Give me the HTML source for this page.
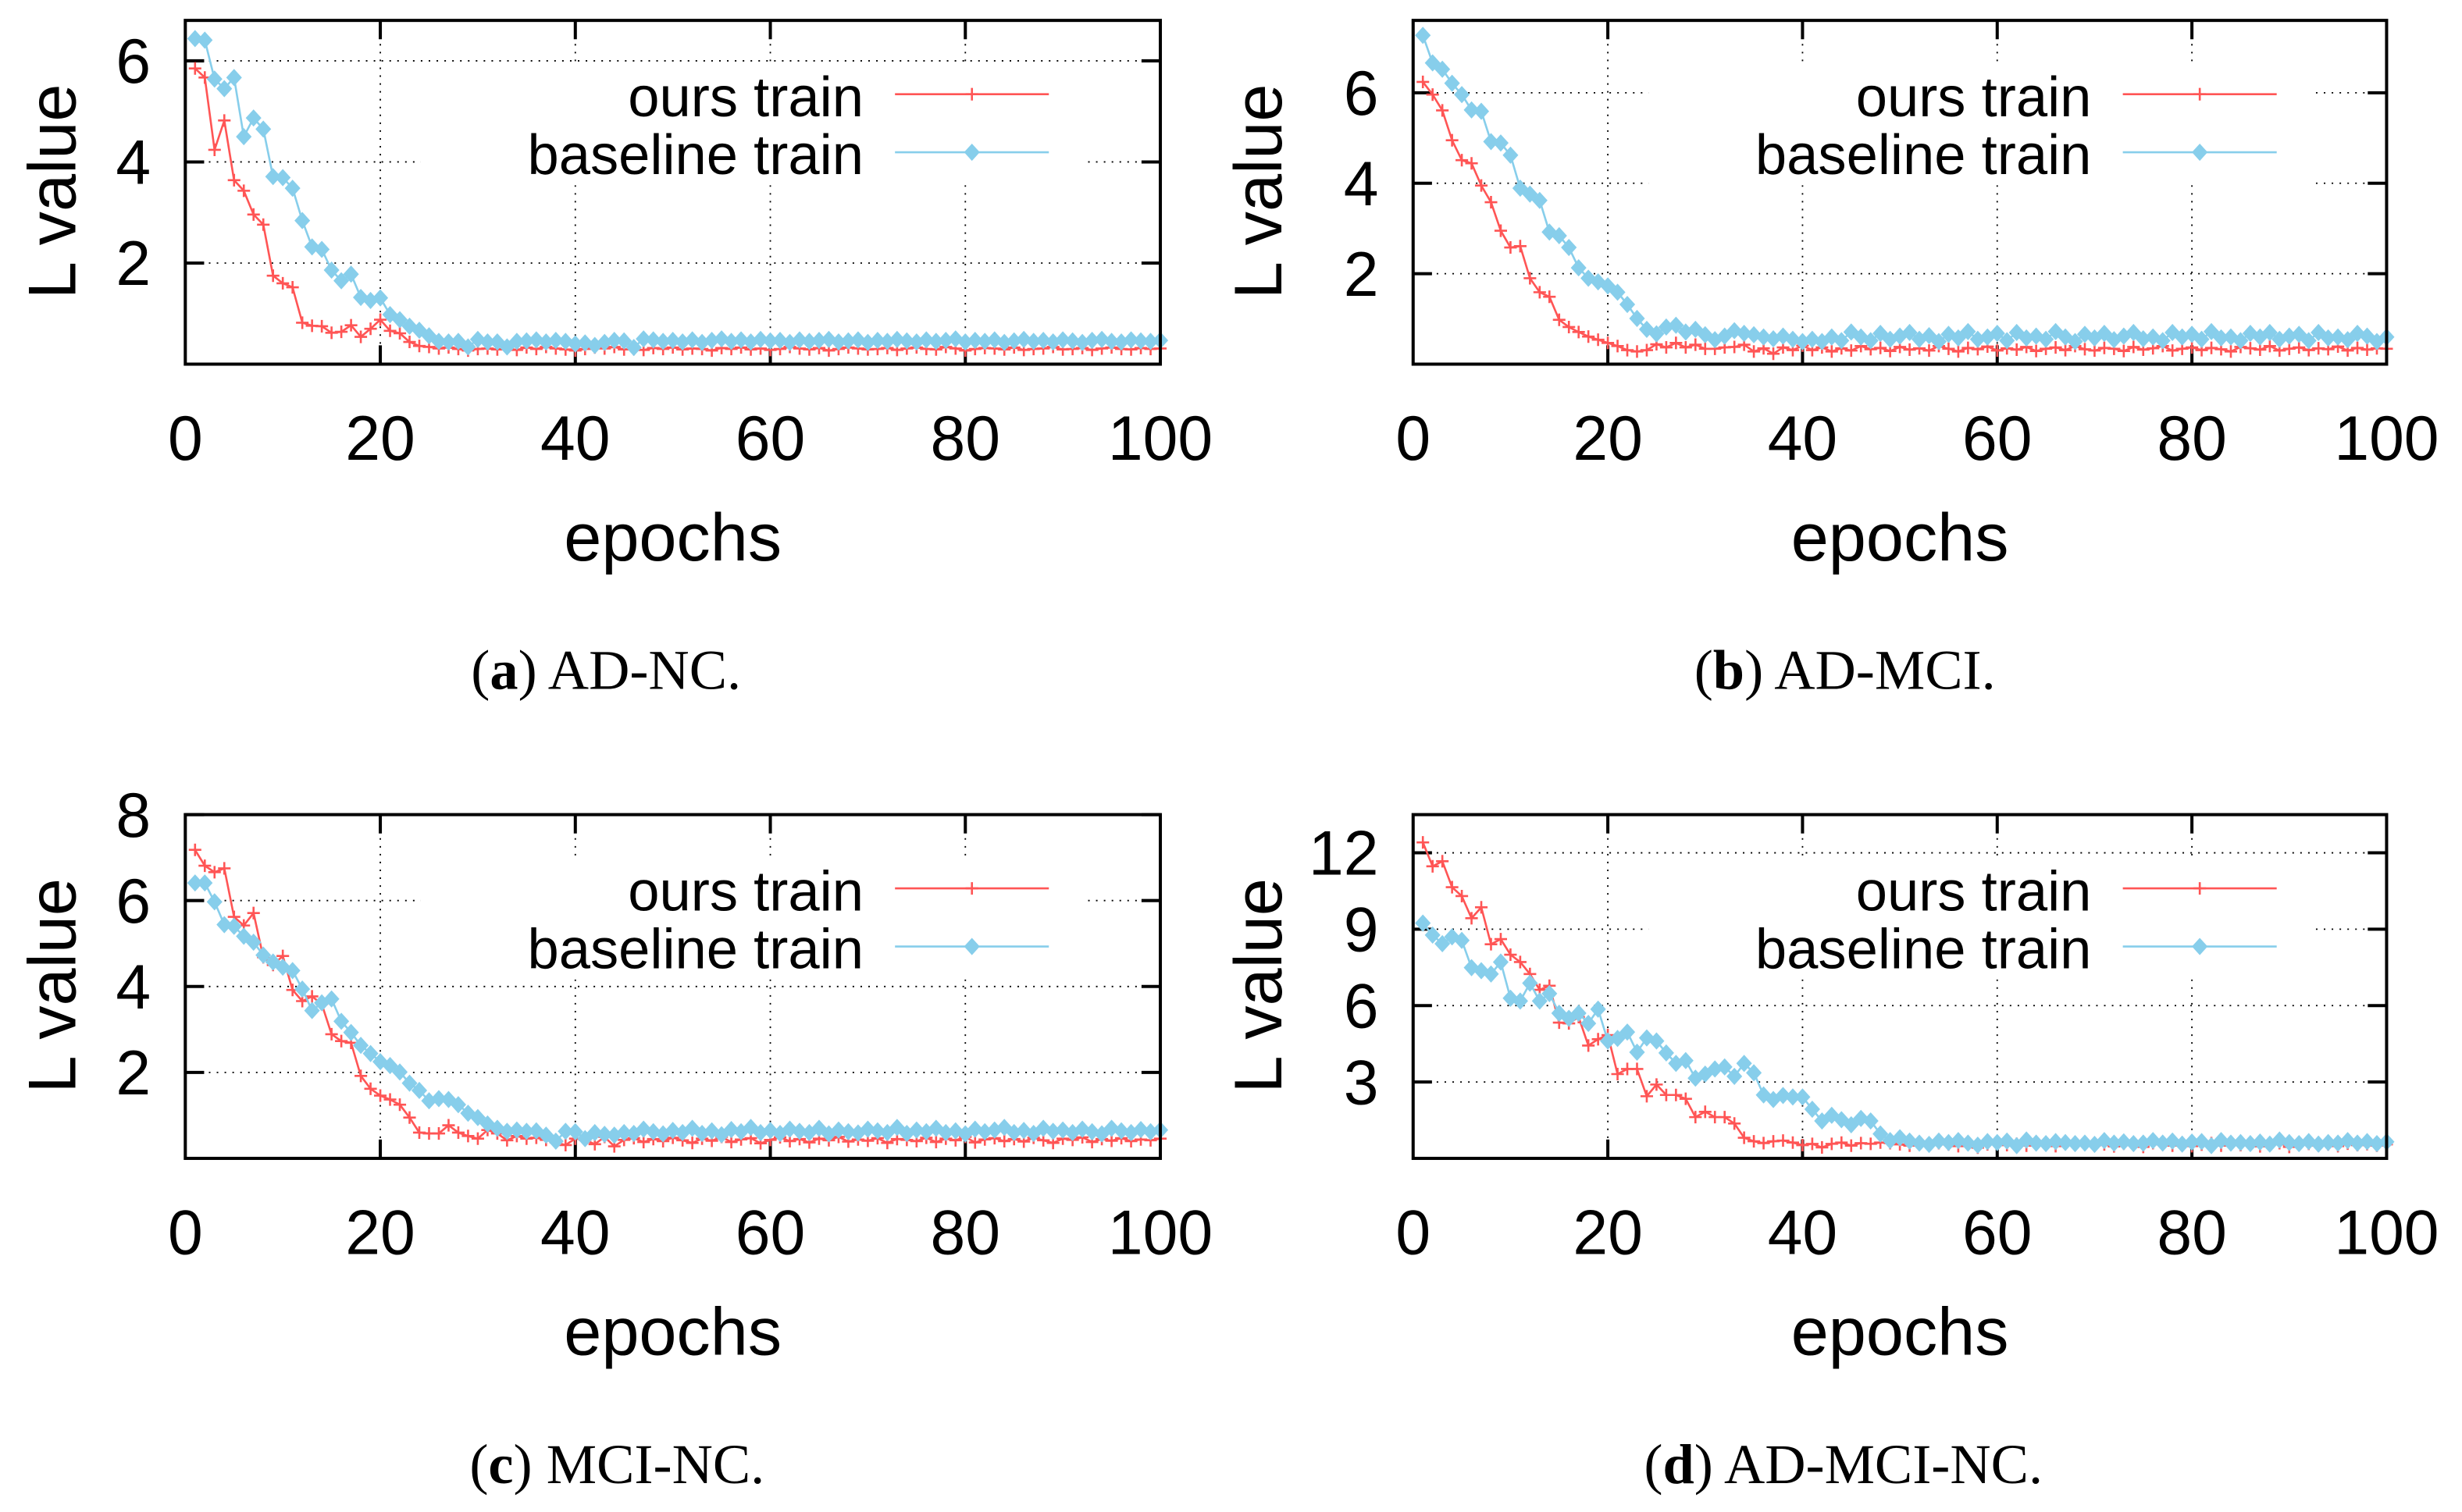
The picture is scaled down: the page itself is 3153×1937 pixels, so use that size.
<!DOCTYPE html>
<html><head><meta charset="utf-8">
<style>
html,body{margin:0;padding:0;background:#fff;}
svg{display:block;}
text{font-family:"Liberation Sans",Arial,sans-serif;fill:#000;}
.cap{font-family:"Liberation Serif","Times New Roman",serif;}
</style></head>
<body>
<svg id="fig" width="3153" height="1937" viewBox="0 0 1568 963.3" xmlns="http://www.w3.org/2000/svg"></svg>
<script>
const epochs = Array.from({length:100},(_,i)=>i+1);
const xTicks = [0,20,40,60,80,100];
const titleLetters = ["a","b","c","d"];
const titles = ["AD-NC.","AD-MCI.","MCI-NC.","AD-MCI-NC."];
const yTicksA = [2,4,6], yTicksB = [2,4,6], yTicksC = [2,4,6,8], yTicksD = [3,6,9,12];
const yMax = [6.8, 7.6, 8, 13.5];
const oursA = [5.85,5.67,4.24,4.82,3.64,3.43,2.96,2.76,1.75,1.6,1.52,0.82,0.76,0.75,0.62,0.64,0.77,0.54,0.7,0.88,0.66,0.61,0.44,0.36,0.34,0.31,0.33,0.3,0.27,0.3,0.31,0.29,0.32,0.28,0.33,0.3,0.34,0.31,0.29,0.27,0.3,0.33,0.31,0.34,0.29,0.3,0.28,0.32,0.3,0.33,0.29,0.31,0.3,0.27,0.32,0.3,0.33,0.29,0.31,0.28,0.3,0.34,0.31,0.29,0.32,0.27,0.3,0.33,0.31,0.29,0.3,0.32,0.28,0.31,0.33,0.3,0.29,0.34,0.31,0.27,0.3,0.32,0.31,0.29,0.33,0.28,0.3,0.31,0.34,0.29,0.3,0.32,0.28,0.31,0.33,0.3,0.29,0.32,0.3,0.31];
const baseA = [6.44,6.41,5.64,5.45,5.67,4.5,4.87,4.65,3.71,3.69,3.48,2.84,2.32,2.27,1.86,1.65,1.78,1.32,1.26,1.31,0.98,0.88,0.75,0.67,0.56,0.45,0.44,0.45,0.34,0.49,0.44,0.44,0.34,0.45,0.46,0.48,0.44,0.47,0.45,0.4,0.42,0.37,0.43,0.47,0.46,0.33,0.5,0.48,0.45,0.47,0.44,0.48,0.43,0.47,0.5,0.45,0.48,0.44,0.49,0.46,0.47,0.43,0.48,0.45,0.47,0.49,0.44,0.46,0.48,0.43,0.47,0.45,0.49,0.46,0.44,0.48,0.45,0.47,0.5,0.44,0.47,0.45,0.48,0.43,0.46,0.49,0.45,0.47,0.44,0.48,0.46,0.43,0.47,0.49,0.45,0.44,0.48,0.46,0.45,0.47];
const oursB = [6.24,5.96,5.61,4.95,4.51,4.44,3.95,3.58,2.95,2.58,2.61,1.9,1.59,1.49,0.98,0.82,0.71,0.61,0.54,0.47,0.4,0.31,0.28,0.31,0.44,0.37,0.47,0.37,0.43,0.34,0.34,0.37,0.38,0.43,0.28,0.35,0.23,0.37,0.31,0.41,0.31,0.37,0.28,0.35,0.3,0.4,0.33,0.36,0.29,0.38,0.32,0.35,0.3,0.4,0.34,0.28,0.36,0.33,0.39,0.3,0.35,0.32,0.38,0.29,0.34,0.37,0.31,0.4,0.33,0.3,0.36,0.34,0.29,0.38,0.32,0.35,0.4,0.3,0.34,0.37,0.31,0.36,0.33,0.28,0.38,0.35,0.32,0.4,0.3,0.34,0.37,0.31,0.35,0.33,0.39,0.3,0.36,0.32,0.35,0.34];
const baseB = [7.27,6.66,6.52,6.21,5.96,5.62,5.59,4.92,4.89,4.62,3.89,3.76,3.62,2.92,2.84,2.58,2.13,1.9,1.82,1.73,1.59,1.32,1.01,0.77,0.67,0.82,0.86,0.71,0.77,0.65,0.54,0.62,0.74,0.68,0.65,0.6,0.56,0.62,0.55,0.5,0.55,0.5,0.6,0.52,0.71,0.6,0.52,0.68,0.55,0.62,0.7,0.55,0.63,0.5,0.66,0.58,0.72,0.55,0.6,0.68,0.52,0.7,0.58,0.62,0.55,0.72,0.6,0.5,0.66,0.58,0.68,0.54,0.62,0.7,0.56,0.6,0.52,0.7,0.6,0.66,0.55,0.72,0.58,0.6,0.52,0.68,0.6,0.7,0.55,0.62,0.66,0.52,0.7,0.58,0.6,0.54,0.68,0.62,0.5,0.6];
const oursC = [7.18,6.81,6.66,6.75,5.62,5.42,5.71,4.68,4.5,4.71,3.92,3.66,3.77,3.59,2.89,2.73,2.69,1.92,1.62,1.46,1.37,1.25,0.95,0.6,0.58,0.58,0.77,0.6,0.52,0.46,0.66,0.58,0.42,0.52,0.46,0.48,0.43,0.37,0.31,0.46,0.43,0.33,0.5,0.28,0.43,0.47,0.38,0.45,0.4,0.48,0.42,0.36,0.46,0.41,0.5,0.38,0.44,0.47,0.35,0.43,0.49,0.4,0.45,0.37,0.46,0.42,0.5,0.39,0.44,0.41,0.47,0.36,0.45,0.43,0.4,0.48,0.38,0.46,0.42,0.5,0.37,0.44,0.47,0.4,0.45,0.39,0.48,0.42,0.36,0.46,0.43,0.49,0.38,0.45,0.41,0.47,0.4,0.44,0.42,0.46];
const baseC = [6.41,6.41,5.97,5.44,5.4,5.17,5.03,4.73,4.57,4.45,4.37,3.94,3.44,3.62,3.71,3.19,2.93,2.63,2.44,2.25,2.16,2.01,1.75,1.58,1.34,1.39,1.37,1.25,1.05,0.95,0.8,0.7,0.63,0.66,0.63,0.64,0.54,0.4,0.63,0.62,0.46,0.6,0.56,0.54,0.6,0.58,0.68,0.62,0.57,0.65,0.6,0.7,0.58,0.64,0.55,0.67,0.62,0.72,0.6,0.65,0.58,0.68,0.63,0.6,0.7,0.57,0.66,0.62,0.59,0.68,0.64,0.6,0.72,0.58,0.66,0.62,0.7,0.6,0.64,0.57,0.68,0.62,0.66,0.72,0.6,0.65,0.58,0.7,0.63,0.66,0.6,0.68,0.62,0.57,0.7,0.64,0.6,0.67,0.62,0.66];
const oursD = [12.41,11.47,11.67,10.65,10.3,9.43,9.86,8.41,8.61,8.0,7.71,7.24,6.62,6.78,5.33,5.3,5.55,4.43,4.68,4.84,3.31,3.51,3.51,2.44,2.9,2.49,2.49,2.34,1.62,1.83,1.62,1.62,1.37,0.81,0.67,0.6,0.67,0.7,0.62,0.52,0.57,0.43,0.57,0.62,0.5,0.6,0.57,0.62,0.6,0.55,0.5,0.58,0.52,0.6,0.55,0.48,0.56,0.42,0.55,0.6,0.52,0.57,0.5,0.6,0.54,0.48,0.58,0.53,0.6,0.5,0.55,0.47,0.58,0.52,0.45,0.6,0.55,0.5,0.57,0.48,0.54,0.6,0.5,0.56,0.52,0.58,0.47,0.55,0.6,0.45,0.53,0.57,0.5,0.55,0.48,0.58,0.52,0.56,0.5,0.55];
const baseD = [9.24,8.77,8.43,8.7,8.56,7.49,7.37,7.24,7.71,6.29,6.18,6.88,6.18,6.47,5.7,5.5,5.7,5.3,5.86,4.61,4.71,4.96,4.17,4.73,4.61,4.14,3.73,3.84,3.15,3.31,3.51,3.59,3.22,3.73,3.36,2.49,2.31,2.47,2.41,2.41,1.93,1.47,1.69,1.52,1.32,1.57,1.47,0.96,0.7,0.81,0.68,0.6,0.55,0.68,0.62,0.7,0.6,0.52,0.66,0.62,0.68,0.5,0.72,0.6,0.58,0.66,0.62,0.58,0.6,0.55,0.7,0.6,0.65,0.58,0.6,0.7,0.6,0.68,0.56,0.64,0.66,0.5,0.7,0.6,0.62,0.58,0.64,0.56,0.72,0.62,0.58,0.66,0.56,0.62,0.6,0.7,0.6,0.66,0.58,0.65];

const NS="http://www.w3.org/2000/svg";
const svg=document.getElementById('fig');
function mk(tag,attrs,parent){const e=document.createElementNS(NS,tag);for(const k in attrs)e.setAttribute(k,attrs[k]);(parent||svg).appendChild(e);return e;}
const RED="#ff5555", BLUE="#87ceeb";
const panels=[
 {ox:0,oy:0,L:118,R:739,ourKey:oursA,baseKey:baseA,yt:yTicksA,ym:yMax[0],capX:386},
 {ox:782,oy:0,L:900,R:1520,ourKey:oursB,baseKey:baseB,yt:yTicksB,ym:yMax[1],capX:1175},
 {ox:0,oy:506,L:118,R:739,ourKey:oursC,baseKey:baseC,yt:yTicksC,ym:yMax[2],capX:393},
 {ox:782,oy:506,L:900,R:1520,ourKey:oursD,baseKey:baseD,yt:yTicksD,ym:yMax[3],capX:1174}
];
panels.forEach((p,pi)=>{
  const g=mk('g',{});
  
  
  const T=13+p.oy, B=232+p.oy, L=p.L, R=p.R;
  const sx=v=>L+(v-0)/(100-0)*(R-L);
  const sy=v=>B-(v/p.ym)*(B-T);
  p.yt.forEach(t=>{const l=mk('line',{x1:L,x2:R,y1:sy(t),y2:sy(t),stroke:'#000','stroke-width':0.9,'stroke-dasharray':'1 4'},g);
    });
  xTicks.slice(1,-1).forEach(t=>{const l=mk('line',{x1:sx(t),x2:sx(t),y1:T,y2:B,stroke:'#000','stroke-width':0.9,'stroke-dasharray':'1 4'},g);
    });
  const lb=mk('rect',{x:L+150,y:T+27,width:422,height:78,fill:'#fff'},g);
  
  p.yt.forEach(t=>{
    const a=mk('line',{x1:L,x2:L+12,y1:sy(t),y2:sy(t),stroke:'#000','stroke-width':2},g);
    
    const b=mk('line',{x1:R-12,x2:R,y1:sy(t),y2:sy(t),stroke:'#000','stroke-width':2},g);
    
    const tx=mk('text',{x:L-22,y:sy(t)+14,'text-anchor':'end','font-size':40},g);
    
    tx.textContent=t;
  });
  xTicks.forEach(t=>{
    if(t>0&&t<100){
      const a=mk('line',{x1:sx(t),x2:sx(t),y1:B,y2:B-12,stroke:'#000','stroke-width':2},g);
      
      const b=mk('line',{x1:sx(t),x2:sx(t),y1:T,y2:T+12,stroke:'#000','stroke-width':2},g);
      
    }
    const tx=mk('text',{x:sx(t),y:B+61,'text-anchor':'middle','font-size':40},g);
    
    tx.textContent=t;
  });
  function series(vals,color,kind,name){
    const pts=vals.map((v,i)=>sx(epochs[i]).toFixed(2)+','+sy(v).toFixed(2)).join(' ');
    const pl=mk('polyline',{points:pts,fill:'none',stroke:color,'stroke-width':1.3},g);
    
    vals.forEach((v,i)=>{
      const x=sx(epochs[i]),y=sy(v);
      let m;
      if(kind==='plus') m=mk('path',{d:`M${x-4},${y}H${x+4}M${x},${y-4}V${y+4}`,stroke:color,'stroke-width':1.3,fill:'none'},g);
      else m=mk('path',{d:`M${x},${y-5.5}L${x+5},${y}L${x},${y+5.5}L${x-5},${y}Z`,fill:color},g);
      
    });
  }
  series(p.ourKey,RED,'plus','ours-train');
  series(p.baseKey,BLUE,'diamond','baseline-train');
  const lx=p.ox+550;
  const t1=mk('text',{x:lx,y:T+61,'text-anchor':'end','font-size':36},g);
  t1.textContent='ours train';
  const l1=mk('line',{x1:lx+20,x2:lx+118,y1:T+47,y2:T+47,stroke:RED,'stroke-width':1.3},g);
  
  const m1=mk('path',{d:`M${lx+65},${T+47}h8M${lx+69},${T+43}v8`,stroke:RED,'stroke-width':1.3},g);
  
  const t2=mk('text',{x:lx,y:T+98,'text-anchor':'end','font-size':36},g);
  t2.textContent='baseline train';
  const l2=mk('line',{x1:lx+20,x2:lx+118,y1:T+84,y2:T+84,stroke:BLUE,'stroke-width':1.3},g);
  
  const m2=mk('path',{d:`M${lx+69},${T+78.5}l5,5.5l-5,5.5l-5,-5.5z`,fill:BLUE},g);
  
  const fr=mk('rect',{x:L,y:T,width:R-L,height:B-T,fill:'none',stroke:'#000','stroke-width':2},g);
  
  const yl=mk('text',{x:0,y:0,'text-anchor':'middle','font-size':43,transform:`translate(${p.ox+(pi%2?34:48)},${T+109}) rotate(-90)`},g);
  yl.textContent='L value';
  const xl=mk('text',{x:(L+R)/2,y:B+125,'text-anchor':'middle','font-size':43},g);
  xl.textContent='epochs';
  const cp=mk('text',{x:p.capX,y:B+207,'text-anchor':'middle','font-size':36,'class':'cap'},g);
  
  const s1=mk('tspan',{},cp);s1.textContent='(';
  const s2=mk('tspan',{'font-weight':'bold'},cp);s2.textContent=titleLetters[pi];
  const s3=mk('tspan',{},cp);s3.textContent=') '+titles[pi];
});
</script>
</body></html>
